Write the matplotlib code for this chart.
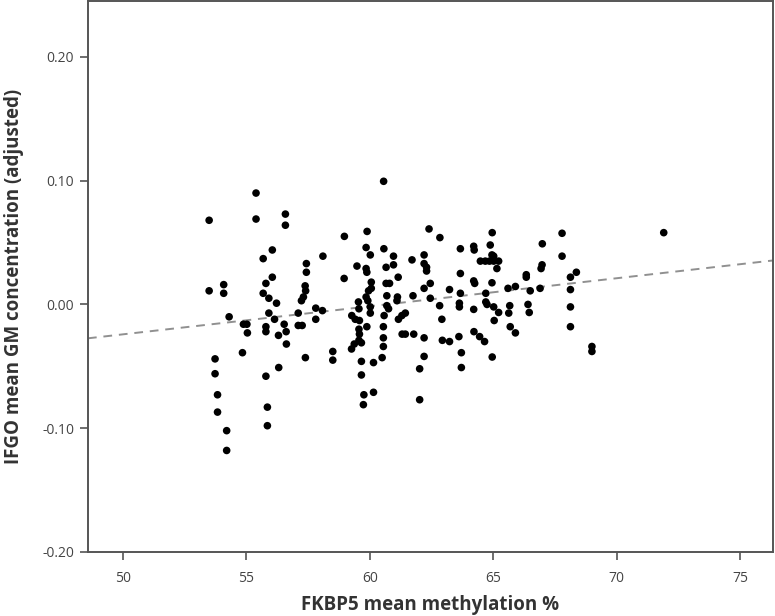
import numpy as np
import matplotlib
matplotlib.use('Agg')
from matplotlib import pyplot as plt
from matplotlib.ticker import FormatStrFormatter

plt.rcParams['font.family'] = ['Open Sans', 'DejaVu Sans']
plt.rcParams['axes.unicode_minus'] = False

# FKBP5 mean methylation %  /  IFGO mean GM concentration (adjusted)
methylation = [
    53.49, 53.49, 53.73, 53.73, 53.83, 53.83, 54.20, 54.20, 54.08, 54.08,
    54.30, 54.88, 55.02, 55.04, 54.84, 55.39, 55.39, 56.58, 56.58, 56.05,
    55.68, 56.05, 55.79, 55.68, 55.91, 56.22, 55.91, 56.14, 55.79, 55.79,
    56.53, 56.61, 56.30, 56.62, 56.31, 55.79, 55.85, 55.85, 57.10, 57.10,
    57.26, 57.43, 57.43, 57.38, 57.40, 57.31, 57.23, 57.81, 58.08, 57.81,
    57.39, 58.10, 58.50, 58.50, 58.97, 58.96,
    59.48, 59.54, 59.56, 59.27, 59.41, 59.58, 59.56, 59.58, 59.56, 59.37,
    59.66, 59.26, 59.66, 59.66,
    59.89, 59.85, 60.02, 59.85, 59.88, 60.06, 60.06, 59.95, 59.85, 59.92,
    60.02, 60.02, 59.88, 59.76, 59.74, 60.15, 60.15,
    60.56, 60.57, 60.66, 60.66, 60.80, 60.69, 60.69, 60.76, 60.58, 60.55,
    60.55, 60.55, 60.50,
    60.96, 60.96, 61.15, 61.12, 61.10, 61.16, 61.30, 61.44, 61.31, 61.44,
    61.78, 61.71, 61.75,
    62.40, 62.84, 62.20, 62.20, 62.30, 62.30, 62.45, 62.20, 62.45, 62.20,
    62.20, 62.02, 62.02,
    62.83, 62.92, 62.94, 63.23, 63.23,
    63.67, 63.67, 63.67, 63.63, 63.63, 63.61, 63.71, 63.71,
    64.21, 64.23, 64.48, 64.68, 64.21, 64.25, 64.70, 64.70, 64.75, 64.21,
    64.22, 64.45, 64.65,
    64.96, 64.88, 64.95, 65.02, 64.85, 65.02, 65.22, 65.15, 64.95, 65.02,
    65.22, 65.04, 64.96,
    65.60, 65.90, 65.67, 65.63, 65.69, 65.90,
    66.34, 66.34, 66.50, 66.41, 66.46,
    66.99, 66.98, 66.94, 66.90,
    67.79, 67.79, 68.13, 68.13, 68.13, 68.13, 68.37, 69.00, 69.00, 71.91,
]
gm_conc = [
    0.068, 0.011, -0.044, -0.056, -0.073, -0.087, -0.102, -0.118, 0.016, 0.009,
    -0.010, -0.016, -0.016, -0.023, -0.039, 0.090, 0.069, 0.073, 0.064, 0.044,
    0.037, 0.022, 0.017, 0.009, 0.005, 0.001, -0.007, -0.012, -0.018, -0.022,
    -0.016, -0.022, -0.025, -0.032, -0.051, -0.058, -0.083, -0.098, -0.007, -0.017,
    -0.017, 0.033, 0.026, 0.015, 0.011, 0.006, 0.003, -0.003, -0.005, -0.012,
    -0.043, 0.039, -0.038, -0.045, 0.055, 0.021,
    0.031, 0.002, -0.0035, -0.009, -0.012, -0.013, -0.020, -0.024, -0.029, -0.032,
    -0.031, -0.036, -0.046, -0.057,
    0.059, 0.046, 0.040, 0.029, 0.026, 0.018, 0.013, 0.011, 0.006, 0.003,
    -0.002, -0.007, -0.018, -0.073, -0.081, -0.047, -0.071,
    0.0995, 0.045, 0.030, 0.017, 0.017, 0.007, -0.001, -0.0035, -0.009, -0.018,
    -0.027, -0.034, -0.043,
    0.039, 0.032, 0.022, 0.006, 0.003, -0.012, -0.009, -0.007, -0.024, -0.024,
    -0.024, 0.036, 0.007,
    0.061, 0.054, 0.040, 0.033, 0.030, 0.027, 0.017, 0.013, 0.005, -0.027,
    -0.042, -0.052, -0.077,
    -0.001, -0.012, -0.029, -0.030, 0.012,
    0.045, 0.025, 0.009, 0.001, -0.002, -0.026, -0.039, -0.051,
    0.047, 0.044, 0.035, 0.035, 0.019, 0.017, 0.009, 0.002, 0.000, -0.004,
    -0.022, -0.026, -0.030,
    0.058, 0.048, 0.040, 0.039, 0.035, 0.035, 0.035, 0.029, 0.0175, -0.002,
    -0.0065, -0.013, -0.0425,
    0.013, 0.0145, -0.001, -0.007, -0.018, -0.023,
    0.024, 0.022, 0.011, 0.000, -0.0065,
    0.049, 0.032, 0.029, 0.013,
    0.0575, 0.039, 0.022, 0.012, -0.002, -0.018, 0.026, -0.034, -0.038, 0.058,
]

# fit line
fit_slope = 0.002266
fit_at_60 = -0.0015

xticks = [50, 55, 60, 65, 70, 75]
yticks = [-0.20, -0.10, 0.00, 0.10, 0.20]

fig = plt.figure(figsize=(7.75, 6.16), dpi=100)
ax = fig.add_axes([0.1135, 0.104, 0.884, 0.894])

ax.scatter(methylation, gm_conc, s=30, color='black', edgecolors='none', zorder=3)

xl = (48.58, 76.34)
xs = np.array(xl)
ax.plot(xs, fit_at_60 + fit_slope * (xs - 60), color='#909090', lw=1.4,
        dashes=(4.5, 3.5), zorder=2)

ax.set_xlim(xl)
ax.set_ylim(-0.20, 0.245)
ax.set_xticks(xticks)
ax.set_yticks(yticks)
ax.yaxis.set_major_formatter(FormatStrFormatter('%.2f'))

for s in ax.spines.values():
    s.set_color('#555555')
    s.set_linewidth(1.4)
ax.tick_params(axis='both', direction='out', length=6, width=1.2,
               color='#555555', labelsize=10, labelcolor='#444444')
ax.tick_params(axis='x', pad=8)
ax.tick_params(axis='y', pad=4)

ax.set_xlabel('FKBP5 mean methylation %', fontsize=13.5, fontweight='bold',
              color='#333333', labelpad=6)
ax.set_ylabel('IFGO mean GM concentration (adjusted)', fontsize=13.5,
              fontweight='bold', color='#333333', labelpad=13)

fig.savefig('out.png', dpi=100)
